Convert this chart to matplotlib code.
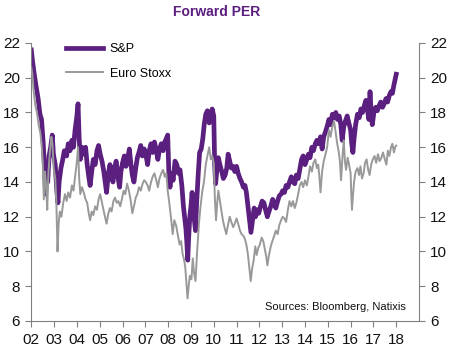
import numpy as np
import matplotlib
matplotlib.use('Agg')
import matplotlib.pyplot as plt

plt.rcParams['font.family'] = ['Liberation Sans', 'DejaVu Sans']

# Forward PER (decimal years)
sp_dates = [
    2002.00, 2002.05, 2002.12, 2002.20, 2002.30, 2002.38, 2002.45, 2002.52, 2002.58, 2002.63,
    2002.68, 2002.72, 2002.78, 2002.85, 2002.92, 2002.97, 2003.05, 2003.12, 2003.17, 2003.22,
    2003.30, 2003.38, 2003.45, 2003.55, 2003.62, 2003.70, 2003.78, 2003.85, 2003.92, 2004.00,
    2004.05, 2004.10, 2004.15, 2004.22, 2004.30, 2004.38, 2004.45, 2004.52, 2004.58, 2004.65,
    2004.72, 2004.80, 2004.88, 2004.95, 2005.02, 2005.10, 2005.18, 2005.25, 2005.30, 2005.38,
    2005.45, 2005.52, 2005.58, 2005.65, 2005.72, 2005.80, 2005.87, 2005.93, 2006.00, 2006.08,
    2006.15, 2006.22, 2006.30, 2006.37, 2006.43, 2006.50, 2006.58, 2006.65, 2006.72, 2006.80,
    2006.87, 2006.95, 2007.02, 2007.10, 2007.17, 2007.25, 2007.32, 2007.40, 2007.48, 2007.55,
    2007.62, 2007.70, 2007.78, 2007.85, 2007.92, 2007.98, 2008.03, 2008.08, 2008.15, 2008.22,
    2008.30, 2008.38, 2008.45, 2008.52, 2008.60, 2008.67, 2008.72, 2008.78, 2008.82, 2008.86,
    2008.90, 2008.95, 2009.00, 2009.05, 2009.10, 2009.15, 2009.20, 2009.25, 2009.32, 2009.38,
    2009.45, 2009.52, 2009.58, 2009.65, 2009.72, 2009.80, 2009.87, 2009.93, 2010.00, 2010.04,
    2010.08, 2010.13, 2010.20, 2010.27, 2010.35, 2010.42, 2010.50, 2010.57, 2010.63, 2010.70,
    2010.77, 2010.85, 2010.92, 2011.00, 2011.07, 2011.15, 2011.22, 2011.30, 2011.37, 2011.43,
    2011.50, 2011.57, 2011.63, 2011.70, 2011.77, 2011.83, 2011.90, 2011.97, 2012.05, 2012.12,
    2012.20, 2012.27, 2012.35, 2012.42, 2012.50, 2012.58, 2012.65, 2012.72, 2012.80, 2012.87,
    2012.95, 2013.02, 2013.10, 2013.17, 2013.25, 2013.32, 2013.40, 2013.47, 2013.55, 2013.62,
    2013.70, 2013.77, 2013.85, 2013.92, 2014.00, 2014.08, 2014.15, 2014.22, 2014.30, 2014.37,
    2014.45, 2014.52, 2014.60, 2014.68, 2014.75, 2014.82, 2014.90, 2014.97, 2015.05, 2015.12,
    2015.20, 2015.28, 2015.35, 2015.42, 2015.50, 2015.57, 2015.63, 2015.70, 2015.77, 2015.85,
    2015.92, 2016.00, 2016.05, 2016.10, 2016.15, 2016.22, 2016.30, 2016.38, 2016.45, 2016.52,
    2016.60, 2016.67, 2016.73, 2016.80, 2016.85, 2016.90, 2016.95, 2017.02, 2017.10, 2017.17,
    2017.25, 2017.32, 2017.40, 2017.47, 2017.55, 2017.62, 2017.70, 2017.77, 2017.83, 2017.90,
    2017.95, 2018.00,
]
sp_per = [
    21.6, 21.0, 20.3, 19.6, 18.8, 17.9, 17.6, 16.3, 14.8, 13.3,
    14.8, 14.0, 15.5, 16.0, 16.7, 15.6, 15.0, 13.5, 12.8, 14.0,
    14.8, 15.3, 15.8, 15.5, 16.2, 15.8, 16.4, 16.0, 17.0, 17.8,
    18.5, 16.5, 15.3, 16.0, 15.6, 16.0, 15.0, 14.3, 13.8, 14.6,
    15.3, 15.0, 15.8, 16.1, 15.6, 15.2, 14.6, 13.9, 13.4, 14.5,
    15.0, 14.4, 14.0, 14.8, 15.2, 14.3, 13.7, 14.6, 15.1, 15.5,
    14.9, 15.3, 15.9, 15.0, 14.4, 14.0, 14.8, 15.4, 15.7, 16.1,
    15.5, 15.9, 15.6, 15.0, 15.8, 16.2, 15.7, 16.3, 15.8, 15.3,
    15.9, 16.2, 15.8, 16.3, 16.5, 16.7, 14.6, 13.7, 14.5, 14.1,
    15.2, 15.0, 14.5, 14.7, 13.8, 12.6, 12.0, 11.3, 10.5, 9.5,
    10.8, 12.0, 12.6, 13.4, 12.4, 11.8, 11.2, 12.8, 14.5, 15.7,
    15.9, 16.5, 17.3, 17.9, 18.1, 17.4, 17.6, 18.2, 17.8, 15.0,
    13.9, 14.6, 15.4, 15.0, 14.6, 14.2, 14.4, 14.8, 15.6, 15.2,
    14.8, 14.9, 14.6, 14.9, 14.5, 14.2, 14.0, 13.7, 13.8, 13.4,
    12.6, 11.8, 11.1, 11.8, 12.5, 12.0, 12.4, 12.2, 12.6, 12.9,
    12.8, 12.4, 12.0, 12.3, 12.6, 13.0, 12.8, 12.5, 12.9, 13.2,
    13.3, 13.5, 13.4, 13.8, 13.7, 14.0, 14.3, 14.0, 13.9, 14.4,
    14.2, 14.7, 15.3, 15.5, 15.0, 15.3, 15.6, 15.4, 16.0, 15.8,
    16.2, 16.4, 16.2, 16.6, 15.9, 16.6, 16.9, 17.2, 17.6, 17.3,
    17.9, 17.7, 18.0, 17.6, 17.8, 17.3, 16.4, 17.2, 17.5, 17.8,
    17.4, 17.0, 16.2, 15.7, 16.5, 17.3, 17.9, 17.7, 18.2, 18.0,
    18.4, 18.7, 18.2, 17.6, 19.2, 18.0, 17.3, 18.0, 18.3, 18.1,
    18.4, 18.6, 18.3, 18.5, 18.8, 18.6, 19.0, 19.2, 19.1, 19.6,
    19.9, 20.2,
]

eu_dates = [
    2002.00, 2002.05, 2002.10, 2002.18, 2002.25, 2002.32, 2002.40, 2002.45, 2002.50, 2002.55,
    2002.60, 2002.65, 2002.70, 2002.75, 2002.82, 2002.88, 2002.93, 2002.98, 2003.05, 2003.10,
    2003.15, 2003.20, 2003.25, 2003.32, 2003.40, 2003.48, 2003.55, 2003.62, 2003.70, 2003.78,
    2003.85, 2003.92, 2004.00, 2004.05, 2004.10, 2004.15, 2004.22, 2004.30, 2004.38, 2004.45,
    2004.52, 2004.58, 2004.65, 2004.72, 2004.80, 2004.88, 2004.95, 2005.02, 2005.10, 2005.18,
    2005.25, 2005.30, 2005.38, 2005.45, 2005.52, 2005.60, 2005.67, 2005.75, 2005.82, 2005.90,
    2005.97, 2006.05, 2006.12, 2006.20, 2006.28, 2006.35, 2006.43, 2006.50, 2006.58, 2006.65,
    2006.72, 2006.80, 2006.88, 2006.95, 2007.02, 2007.10, 2007.17, 2007.25, 2007.32, 2007.40,
    2007.48, 2007.55, 2007.62, 2007.70, 2007.78, 2007.85, 2007.92, 2007.98, 2008.05, 2008.12,
    2008.20, 2008.27, 2008.35, 2008.42, 2008.50, 2008.57, 2008.63, 2008.70, 2008.75, 2008.80,
    2008.85, 2008.90, 2008.95, 2009.02, 2009.08, 2009.13, 2009.20, 2009.27, 2009.35, 2009.42,
    2009.50, 2009.57, 2009.65, 2009.72, 2009.80, 2009.87, 2009.93, 2010.00, 2010.05, 2010.10,
    2010.15, 2010.20, 2010.27, 2010.33, 2010.40, 2010.47, 2010.55, 2010.62, 2010.70, 2010.77,
    2010.85, 2010.92, 2011.00, 2011.07, 2011.15, 2011.22, 2011.30, 2011.37, 2011.43, 2011.50,
    2011.57, 2011.62, 2011.68, 2011.75, 2011.82, 2011.88, 2011.95, 2012.02, 2012.10, 2012.17,
    2012.23, 2012.30, 2012.35, 2012.42, 2012.50, 2012.57, 2012.65, 2012.72, 2012.80, 2012.87,
    2012.95, 2013.02, 2013.10, 2013.17, 2013.25, 2013.32, 2013.40, 2013.47, 2013.55, 2013.62,
    2013.70, 2013.77, 2013.85, 2013.92, 2014.00, 2014.08, 2014.15, 2014.22, 2014.30, 2014.37,
    2014.45, 2014.52, 2014.58, 2014.63, 2014.68, 2014.75, 2014.82, 2014.90, 2014.97, 2015.05,
    2015.12, 2015.20, 2015.27, 2015.33, 2015.40, 2015.47, 2015.53, 2015.58, 2015.65, 2015.70,
    2015.75, 2015.80, 2015.87, 2015.93, 2016.00, 2016.03, 2016.06, 2016.10, 2016.15, 2016.22,
    2016.30, 2016.37, 2016.43, 2016.50, 2016.57, 2016.63, 2016.70, 2016.77, 2016.83, 2016.90,
    2016.97, 2017.05, 2017.12, 2017.20, 2017.27, 2017.35, 2017.42, 2017.50, 2017.57, 2017.63,
    2017.70, 2017.77, 2017.83, 2017.90, 2017.95, 2018.00,
]
eu_per = [
    20.6, 20.2, 19.3, 18.4, 18.0, 17.3, 16.8, 16.2, 15.2, 13.0,
    14.6, 13.8, 12.4, 14.5, 15.8, 16.6, 16.2, 14.8, 14.2, 12.8,
    10.0, 11.6, 12.3, 12.0, 12.8, 13.3, 12.9, 13.4, 13.1, 13.8,
    13.5, 14.3, 15.2, 16.0, 14.2, 13.3, 13.7, 13.4, 13.0, 12.8,
    12.2, 11.8, 12.3, 12.1, 12.6, 12.4, 13.0, 13.3, 12.8, 12.3,
    11.9, 11.6, 12.2, 12.5, 12.3, 12.9, 13.1, 12.8, 12.9, 12.6,
    13.0, 13.5, 13.3, 13.9, 13.5, 13.0, 12.2, 12.6, 13.1, 13.3,
    13.7, 13.5, 13.9, 14.1, 14.0, 13.8, 13.5, 14.0, 14.3, 14.5,
    14.1, 13.7, 14.2, 14.5, 14.7, 14.3, 14.5, 13.5, 12.8, 12.0,
    11.0, 11.8, 11.5, 11.0, 10.4, 10.6, 9.9, 9.5, 9.1, 8.2,
    7.3, 8.0, 8.6, 8.4, 9.6, 8.8, 8.3, 10.0, 11.6, 12.6,
    13.5, 14.0, 15.0, 15.5, 16.0, 15.3, 15.5, 15.1, 13.0, 11.8,
    12.8, 13.5, 12.9, 12.4, 11.8, 11.4, 11.0, 11.5, 12.0, 11.7,
    11.4, 11.6, 11.9, 11.6, 11.2, 11.0, 10.9, 10.7, 10.4, 9.8,
    8.9, 8.3, 9.0, 9.5, 10.3, 9.8, 10.2, 10.4, 10.8, 10.6,
    10.2, 9.7, 9.2, 9.8, 10.3, 10.6, 10.9, 11.2, 11.0, 11.5,
    11.8, 12.0, 11.9, 11.7, 12.4, 12.9, 12.6, 12.9, 12.5, 12.8,
    13.3, 13.8, 14.0, 13.7, 14.1, 13.8, 14.3, 14.9, 14.6, 15.1,
    15.3, 14.8, 15.0, 14.3, 13.4, 14.6, 15.2, 15.6, 16.0, 17.0,
    16.6, 17.2, 17.5, 17.0, 16.3, 15.8, 15.2, 14.1, 15.6, 16.4,
    15.2, 14.7, 15.4, 15.0, 14.5, 13.2, 12.4, 13.2, 14.0, 14.6,
    14.8, 14.4, 14.9, 14.2, 14.5, 15.1, 15.3, 14.7, 14.4, 15.0,
    15.3, 15.5, 15.1, 15.6, 15.2, 15.4, 15.7, 15.3, 15.0, 15.8,
    15.5, 16.0, 16.2, 15.7, 16.0, 16.1,
]

year_ticks = list(range(2002, 2019))
year_labels = ['%02d' % (y % 100) for y in year_ticks]
per_ticks = [6, 8, 10, 12, 14, 16, 18, 20, 22]

PURPLE = '#5b1f80'
GREY = '#999999'
AXIS = '#808080'


def style_axis(ax):
    ax.spines['top'].set_visible(False)
    for side in ['left', 'right', 'bottom']:
        ax.spines[side].set_color(AXIS)
        ax.spines[side].set_linewidth(0.8)
    ax.tick_params(direction='out', length=4, width=0.8, color=AXIS,
                   labelsize=11, labelcolor='#111111')


fig = plt.figure(figsize=(4.6, 3.51), dpi=100)
ax = fig.add_axes([0.068, 0.0855, 0.843, 0.792])

ax.plot(eu_dates, eu_per, color=GREY, lw=1.4, label='Euro Stoxx', zorder=3)
ax.plot(sp_dates, sp_per, color=PURPLE, lw=3.4, label='S&P', zorder=2,
        solid_joinstyle='round')

ax.set_xlim(2002, 2019)
ax.set_ylim(6, 22)
ax.set_xticks(year_ticks)
ax.set_xticklabels(year_labels)
ax.set_yticks(per_ticks)
style_axis(ax)
ax.spines['right'].set_visible(False)
ax.tick_params(axis='x', pad=5)
ax.tick_params(axis='y', pad=4)

ax2 = ax.twinx()
ax2.set_ylim(6, 22)
ax2.set_yticks(per_ticks)
style_axis(ax2)
ax2.spines['left'].set_visible(False)
ax2.spines['bottom'].set_visible(False)
ax2.tick_params(axis='y', pad=4)

handles, labels = ax.get_legend_handles_labels()
ax.legend(handles[::-1], labels[::-1], loc='upper left', bbox_to_anchor=(0.06, 1.04),
          frameon=False, fontsize=9, handlelength=3.0, labelspacing=1.0,
          handletextpad=0.5)

fig.text(0.472, 0.965, 'Forward PER', ha='center', va='center',
         fontsize=10, fontweight='bold', color=PURPLE)
ax.text(0.965, 0.05, 'Sources: Bloomberg, Natixis', transform=ax.transAxes,
        ha='right', va='center', fontsize=8, color='#111111')

fig.savefig('out.png', dpi=100)
